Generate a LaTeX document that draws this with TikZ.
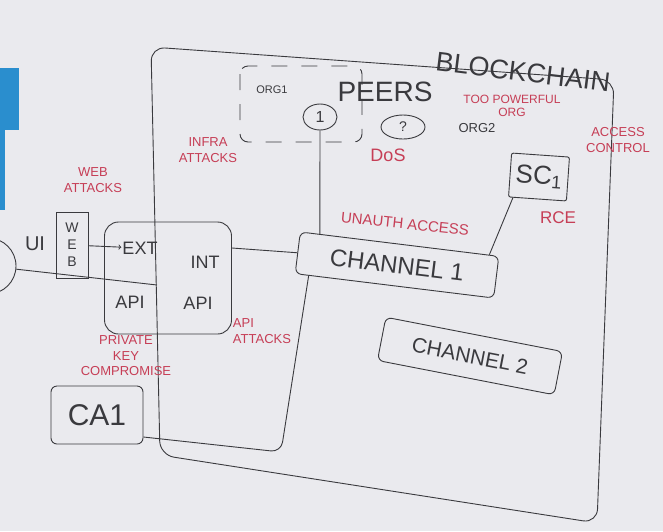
\documentclass[tikz,border=0pt]{standalone}
\usepackage{fontspec}
\setmainfont{Liberation Sans}
\usetikzlibrary{shapes.geometric,calc}

\definecolor{inkc}{RGB}{58,58,62}
\definecolor{redc}{RGB}{198,62,86}
\definecolor{boardc}{RGB}{234,234,238}
\definecolor{bluec}{RGB}{42,142,206}

\tikzstyle{ink} = [draw=inkc, line width=0.9pt]
\tikzstyle{box} = [ink, rounded corners=6pt, text=inkc, inner sep=2pt]
\tikzstyle{lbl} = [text=inkc, inner sep=1pt]
\tikzstyle{note} = [text=redc, align=center, inner sep=1pt,
    font=\fontsize{13}{15.5}\selectfont]

\begin{document}
\begin{tikzpicture}[x=1pt, y=-1pt]
\fill[boardc] (0,0) rectangle (663,531);
\useasboundingbox (0,0) rectangle (663,531);
\fill[bluec] (0,68) rectangle (19,130);
\fill[bluec] (0,130) rectangle (5,210);

\draw[ink, rounded corners=14pt] (151,47) -- (614,80) -- (597,523) -- (160,455) -- cycle;
\node[lbl, rotate=-7, font=\fontsize{27}{28}\selectfont] (chain) at (523,72) {BLOCKCHAIN};

\draw[ink, dash pattern=on 16pt off 14pt, rounded corners=8pt] (240,66) rectangle (362,142);
\node[lbl, font=\fontsize{11}{12}\selectfont] (org1) at (272,90) {ORG1};
\node[lbl, font=\fontsize{28}{30}\selectfont] (peers) at (385,92) {PEERS};
\node[ink, ellipse, lbl, minimum width=34pt, minimum height=26pt,
    font=\fontsize{16}{16}\selectfont] (peer1) at (320,117) {1};
\node[ink, ellipse, lbl, minimum width=44pt, minimum height=24pt,
    font=\fontsize{14}{14}\selectfont] (peer2) at (403,127) {?};
\node[lbl, font=\fontsize{13}{14}\selectfont] (org2) at (477,128) {ORG2};
\node[note, font=\fontsize{12}{13.5}\selectfont] (power) at (512,106) {TOO POWERFUL\\ORG};
\node[note, font=\fontsize{18}{18}\selectfont] (dos) at (388,155) {DoS};
\node[note] (infra) at (208,150) {INFRA\\ATTACKS};
\node[note] (web) at (93,180) {WEB\\ATTACKS};
\node[note] (access) at (618,140) {ACCESS\\CONTROL};

\node[box, rounded corners=2pt, minimum width=58pt, minimum height=44pt, rotate=-4,
    font=\fontsize{26}{28}\selectfont] (sc1) at (539,177) {SC\textsubscript{1}};
\node[note, font=\fontsize{17}{17}\selectfont] (rce) at (558,218) {RCE};
\node[note, rotate=-6, font=\fontsize{15}{15}\selectfont] (unauth) at (405,224) {UNAUTH ACCESS};

\node[box, minimum width=200pt, minimum height=42pt, rotate=-7,
    font=\fontsize{24}{26}\selectfont] (ch1) at (397,265) {CHANNEL 1};
\node[box, minimum width=180pt, minimum height=44pt, rotate=-11,
    font=\fontsize{21}{22}\selectfont] (ch2) at (470,356) {CHANNEL 2};

\node[box, rounded corners=14pt, minimum width=127pt, minimum height=112pt] (gw) at (168,278) {};
\node[lbl, font=\fontsize{18}{18}\selectfont] (ext) at (140,248) {EXT};
\node[lbl, font=\fontsize{18}{18}\selectfont] (int) at (205,262) {INT};
\node[lbl, font=\fontsize{18}{18}\selectfont] (api1) at (130,302) {API};
\node[lbl, font=\fontsize{18}{18}\selectfont] (api2) at (198,303) {API};

\node[box, rounded corners=0pt, minimum width=32pt, minimum height=66pt, align=center,
    font=\fontsize{14}{17}\selectfont] (webbox) at (72,245) {W\\E\\B};
\node[lbl, font=\fontsize{20}{20}\selectfont] (ui) at (35,244) {UI};
\node[ink, circle, minimum size=56pt] (user) at (-12,266) {};
\coordinate (split) at (157,285);

\node[box, minimum width=92pt, minimum height=58pt,
    font=\fontsize{30}{30}\selectfont] (ca1) at (97,415) {CA1};
\node[note] (pkey) at (126,356) {PRIVATE\\KEY\\COMPROMISE};
\node[note, align=left] (apiatt) at (262,331) {API\\ATTACKS};

\draw[ink] (user) -- (split);
\draw[ink, ->] (webbox) -- (ext);
\draw[ink] ([yshift=30pt]gw.east) -- (ch1.west);
\draw[ink] (peer1) -- ($(ch1.north west)!0.1!(ch1.north east)$);
\draw[ink] ([xshift=5pt]sc1.south west) -- ($(ch1.north west)!0.95!(ch1.north east)$);
\draw[ink, rounded corners=10pt] ($(ch1.south west)!0.07!(ch1.south east)$)
    -- (281,452) -- ([yshift=-22pt]ca1.east);
\end{tikzpicture}
\end{document}
